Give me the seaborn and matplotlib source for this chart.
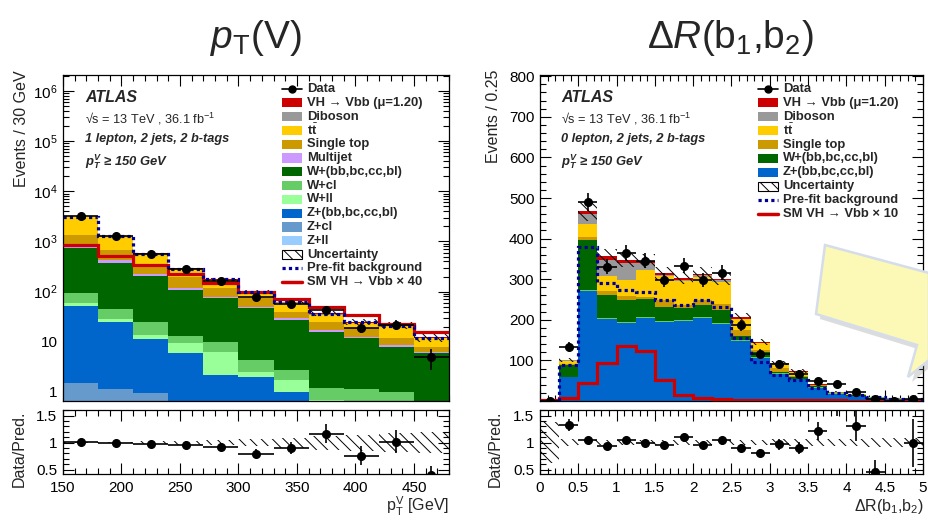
import io
import numpy as np
import pandas as pd
import matplotlib
matplotlib.use("Agg")
import matplotlib.pyplot as plt
import seaborn as sns
from matplotlib.patches import Polygon, Rectangle
from matplotlib.lines import Line2D
from matplotlib.ticker import MultipleLocator, LogLocator, NullFormatter, FuncFormatter

# ---------------- data : pT(V) (1 lepton) ----------------
pt_edges = [150, 180, 210, 240, 270, 300, 330, 360, 390, 420, 450, 480]
pt_zll = [0.2, 0.15, 0.1, 0.1, 0.05, 0.05, 0.03, 0.02, 0.02, 0.01, 0.01]
pt_zcl = [1.3, 1.0, 0.85, 0.5, 0.4, 0.3, 0.2, 0.15, 0.1, 0.1, 0.05]
pt_zhf = [49.5, 23.8, 10.2, 5.3, 1.75, 1.65, 0.77, 0.23, 0.18, 0.09, 0.09]
pt_wll = [7, 4, 2.4, 3.4, 4.1, 0.5, 0.7, 0.3, 0.3, 0.3, 0.15]
pt_wcl = [37, 17, 11.4, 3.7, 3.7, 1.8, 1.0, 0.5, 0.55, 0.5, 0.2]
pt_whf = [630, 319, 179, 95, 64, 43.7, 24.3, 14.8, 10.55, 7.0, 5.4]
pt_mj = [40, 60, 20, 8, 5, 1.5, 2.5, 1.2, 0.8, 0.5, 0.4]
pt_stop = [575, 250, 123, 82, 37, 24.5, 9.1, 7.8, 6.0, 3.2, 1.7]
pt_ttbar = [1694, 570, 211, 79, 54, 19.5, 21, 9.4, 4.7, 8.6, 3.7]
pt_diboson = [40, 20, 10, 6, 4, 2.5, 1.5, 1.1, 0.8, 0.6, 0.4]
pt_vh = [26, 15, 10, 6.6, 4.4, 3.0, 2.1, 1.5, 1.0, 0.7, 0.5]
pt_sm40 = [850, 510, 339, 220, 148, 100, 71, 49, 34, 23, 16]
pt_prefit = [3080, 1270, 575, 288, 175, 97, 62, 36, 24.5, 21, 12]
pt_data = [3160, 1280, 561, 278, 164, 79, 57, 43, 19, 22, 5]
pt_unc = [0.01, 0.015, 0.03, 0.04, 0.05, 0.07, 0.09, 0.13, 0.15, 0.17, 0.2]

# ---------------- data : dR(b1,b2) (0 lepton) ----------------
dr_edges = [0, 0.25, 0.5, 0.75, 1.0, 1.25, 1.5, 1.75, 2.0, 2.25, 2.5,
            2.75, 3.0, 3.25, 3.5, 3.75, 4.0, 4.25, 4.5, 4.75, 5.0]
dr_zhf = [0.5, 60, 272, 202, 192, 204, 195, 198, 205, 190, 149, 107, 67, 54, 33, 18, 13, 8.5, 5.5, 4]
dr_wcl = [0, 0, 2, 2, 2, 2, 2, 2, 2, 2, 2, 2, 1, 1, 1, 0.5, 0.5, 0.2, 0.1, 0.1]
dr_whf = [0.3, 29, 122, 58, 55, 46, 34, 29, 30, 31, 8, 11, 4, 3, 3, 1.5, 1, 0.8, 0.5, 0.4]
dr_stop = [0, 3, 8, 8, 10, 5, 17, 8, 13, 17, 16, 6, 9, 4, 1.5, 1, 0.8, 0.4, 0.3, 0.2]
dr_ttbar = [0.2, 6, 33, 37, 39, 66, 59, 59, 56, 54, 26, 16, 10, 9, 1.5, 1.5, 1, 0.7, 0.5, 0.3]
dr_diboson = [0, 2, 24, 41, 42, 17, 3, 3, 4, 3, 2, 2, 1.5, 1.5, 0.5, 0.3, 0.2, 0.1, 0.1, 0]
dr_vh = [0, 1, 6, 8, 8, 6, 5, 4, 4, 4, 3, 2, 1.5, 1.5, 0.5, 0.3, 0.2, 0.1, 0.1, 0]
dr_sm10 = [1.5, 6.6, 44, 93, 136, 122, 52, 15, 7, 5, 2.5, 2.5, 2, 2, 1.5, 1.5, 1, 1, 1, 1]
dr_prefit = [0.5, 89, 380, 291, 274, 268, 249, 237, 248, 231, 155, 97, 64, 52, 31, 19, 14, 9, 6, 4.5]
dr_data = [0, 134, 490, 331, 365, 346, 299, 333, 298, 316, 187, 117, 91, 67, 50, 41, 22, 5, 0, 5]
dr_unc = [0.38, 0.06, 0.05, 0.05, 0.05, 0.05, 0.05, 0.05, 0.05, 0.05, 0.05, 0.05, 0.06, 0.06,
          0.06, 0.07, 0.07, 0.08, 0.08, 0.08]

# ---------------- style ----------------
COL = {
    "VH": "#cc0000", "Diboson": "#999999", "ttbar": "#ffcc00", "Single top": "#cc9900",
    "Multijet": "#cc99ff", "W+hf": "#006600", "W+cl": "#66cc66", "W+ll": "#99ff99",
    "Z+hf": "#0066cc", "Z+cl": "#6699cc", "Z+ll": "#99ccff",
}
PREFIT_COL = "#000099"

sns.set_theme(style="ticks")
plt.rcParams["font.family"] = ["Liberation Sans", "DejaVu Sans"]
plt.rcParams["mathtext.fontset"] = "custom"
plt.rcParams["mathtext.rm"] = "Liberation Sans"
plt.rcParams["mathtext.it"] = "Liberation Sans:italic"
plt.rcParams["mathtext.bf"] = "Liberation Sans:bold"
try:
    plt.rcParams["mathtext.bfit"] = "Liberation Sans:italic:bold"
except KeyError:
    pass
plt.rcParams["hatch.linewidth"] = 0.7
plt.rcParams["axes.edgecolor"] = "black"
plt.rcParams["xtick.color"] = "black"
plt.rcParams["ytick.color"] = "black"

try:
    from matplotlib.mathtext import math_to_image
    math_to_image("$\\mathbfit{p}$", io.BytesIO(), format="png")
    PTV = "$\\mathbfit{p}_{\\mathbfit{T}}^{\\mathbfit{V}}$"
except Exception:
    PTV = "$\\mathit{p}_{T}^{V}$"

W, H = 929, 521


def px(x, y):
    return (x / W, 1 - y / H)


fig = plt.figure(figsize=(W / 100, H / 100), dpi=100)
ax1 = fig.add_axes([63 / W, 1 - 401 / H, 386 / W, 326 / H])
r1 = fig.add_axes([63 / W, 1 - 474 / H, 386 / W, 64 / H])
ax2 = fig.add_axes([540 / W, 1 - 401 / H, 383 / W, 326 / H])
r2 = fig.add_axes([540 / W, 1 - 474 / H, 383 / W, 64 / H])

HATCH = "\\\\\\"


def draw_panel(ax, rax, edges, comps, order, data, prefit, sm, unc):
    edges_l = [float(e) for e in edges]
    edges = np.asarray(edges_l)
    centers = 0.5 * (edges[:-1] + edges[1:])
    half = 0.5 * np.diff(edges)
    rows = []
    for name in order:
        for c, v in zip(centers, comps[name]):
            rows.append((float(c), float(v), name))
    df = pd.DataFrame(rows, columns=["x", "w", "proc"])
    sns.histplot(data=df, x="x", weights="w", hue="proc", hue_order=order,
                 palette={k: COL[k] for k in order}, multiple="stack", bins=edges_l,
                 element="step", fill=True, alpha=1, linewidth=0, legend=False, ax=ax)
    total = np.sum([np.asarray(comps[k], float) for k in order], axis=0)
    unc = np.asarray(unc, float)
    lo = np.append(total * (1 - unc), total[-1] * (1 - unc[-1]))
    hi = np.append(total * (1 + unc), total[-1] * (1 + unc[-1]))
    ax.fill_between(edges, lo, hi, step="post", facecolor="none", edgecolor="black",
                    hatch=HATCH, linewidth=0, zorder=3)
    ax.stairs(sm, edges, color=COL["VH"], lw=2.3, baseline=None, zorder=4)
    ax.stairs(prefit, edges, color=PREFIT_COL, lw=2.3, ls=(0, (1, 1)), baseline=None, zorder=5)
    data = np.asarray(data, float)
    ax.errorbar(centers, data, yerr=np.sqrt(data), xerr=half, fmt="o", color="black",
                ms=5.5, elinewidth=1.2, capsize=0, zorder=6)
    ax.set_xlabel("")
    ax.set_ylabel("")
    # ratio
    u_lo = np.append(1 - unc, 1 - unc[-1])
    u_hi = np.append(1 + unc, 1 + unc[-1])
    rax.fill_between(edges, u_lo, u_hi, step="post", facecolor="none", edgecolor="black",
                     hatch=HATCH, linewidth=0, zorder=2)
    ratio = data / total
    rerr = np.sqrt(data) / total
    rax.errorbar(centers, ratio, yerr=rerr, xerr=half, fmt="o", color="black",
                 ms=5.5, elinewidth=1.2, capsize=0, zorder=4)
    rax.set_xlim(edges[0], edges[-1])
    rax.set_ylim(0.42, 1.605)
    ax.set_xlim(edges[0], edges[-1])


def style(ax, xmaj, xmin):
    ax.xaxis.set_major_locator(MultipleLocator(xmaj))
    ax.xaxis.set_minor_locator(MultipleLocator(xmin))
    ax.tick_params(which="both", direction="in", top=True, right=True, width=0.8,
                   labelsize=11, pad=4)
    ax.tick_params(which="major", length=8)
    ax.tick_params(which="minor", length=4)
    for s in ax.spines.values():
        s.set_linewidth(0.9)
        s.set_color("black")


order_pt = ["VH", "Diboson", "ttbar", "Single top", "Multijet", "W+hf", "W+cl", "W+ll",
            "Z+hf", "Z+cl", "Z+ll"]
comps_pt = {"VH": pt_vh, "Diboson": pt_diboson, "ttbar": pt_ttbar, "Single top": pt_stop,
            "Multijet": pt_mj, "W+hf": pt_whf, "W+cl": pt_wcl, "W+ll": pt_wll,
            "Z+hf": pt_zhf, "Z+cl": pt_zcl, "Z+ll": pt_zll}
draw_panel(ax1, r1, pt_edges, comps_pt, order_pt, pt_data, pt_prefit, pt_sm40, pt_unc)
ax1.set_yscale("log")
ax1.set_ylim(0.66, 2.08e6)
ax1.set_xlim(150, 480)

order_dr = ["VH", "Diboson", "ttbar", "Single top", "W+hf", "W+cl", "Z+hf"]
comps_dr = {"VH": dr_vh, "Diboson": dr_diboson, "ttbar": dr_ttbar, "Single top": dr_stop,
            "W+hf": dr_whf, "W+cl": dr_wcl, "Z+hf": dr_zhf}
draw_panel(ax2, r2, dr_edges, comps_dr, order_dr, dr_data, dr_prefit, dr_sm10, dr_unc)
ax2.set_ylim(0, 803)

style(ax1, 50, 10)
style(r1, 50, 10)
style(ax2, 0.5, 0.1)
style(r2, 0.5, 0.1)

ax1.yaxis.set_major_locator(LogLocator(base=10, numticks=20))
ax1.yaxis.set_minor_locator(LogLocator(base=10, subs=np.arange(2, 10), numticks=20))
ax1.yaxis.set_minor_formatter(NullFormatter())


def logfmt(v, pos):
    e = int(round(np.log10(v)))
    if e == 0:
        return "1"
    if e == 1:
        return "10"
    return "$\\mathregular{10^{%d}}$" % e


ax1.yaxis.set_major_formatter(FuncFormatter(logfmt))
ax2.yaxis.set_major_locator(MultipleLocator(100))
ax2.yaxis.set_minor_locator(MultipleLocator(20))
ax2.yaxis.set_major_formatter(FuncFormatter(lambda v, p: "" if v <= 0 else "%d" % v))
for a in (ax1, ax2):
    a.tick_params(labelbottom=False)
for r in (r1, r2):
    r.yaxis.set_major_locator(MultipleLocator(0.5))
    r.yaxis.set_minor_locator(MultipleLocator(0.1))
    r.yaxis.set_major_formatter(FuncFormatter(lambda v, p: "%g" % v))
    r.xaxis.set_major_formatter(FuncFormatter(lambda v, p: "%g" % v))
    r.tick_params(axis="x", pad=5)
    r.set_xlabel("")
    r.set_ylabel("")

# ---------------- titles & labels ----------------
fig.text(*px(256, 38), "$p_{\\mathrm{T}}$(V)", fontsize=28, ha="center", va="center")
fig.text(*px(730, 38), "Δ$R$(b$_{1}$,b$_{2}$)", fontsize=28, ha="center", va="center")
fig.text(*px(22, 70), "Events / 30 GeV", rotation=90, ha="center", va="top", fontsize=11.5)
fig.text(*px(494, 70), "Events / 0.25", rotation=90, ha="center", va="top", fontsize=11.5)
fig.text(*px(19, 449), "Data/Pred.", rotation=90, ha="center", va="center", fontsize=11.5)
fig.text(*px(495, 449), "Data/Pred.", rotation=90, ha="center", va="center", fontsize=11.5)
fig.text(*px(449, 511), "$\\mathregular{p_{T}^{V}}$ [GeV]", ha="right", va="baseline",
         fontsize=11.5)
fig.text(*px(924, 511), "ΔR(b$_{1}$,b$_{2}$)", ha="right", va="baseline", fontsize=11.5)

# ATLAS labels
for x0, chan in ((85, "1 lepton, 2 jets, 2 b-tags"), (561, "0 lepton, 2 jets, 2 b-tags")):
    fig.text(*px(x0, 97), "ATLAS", fontsize=11.5, fontweight="bold", fontstyle="italic",
             ha="left", va="center")
    fig.text(*px(x0, 119), "√s = 13 TeV , 36.1 fb$^{\\mathregular{-1}}$", fontsize=9.2,
             ha="left", va="center")
    fig.text(*px(x0, 139), chan, fontsize=9.2, fontweight="bold", fontstyle="italic",
             ha="left", va="center")
    fig.text(*px(x0, 162), PTV + " ≥ 150 GeV", fontsize=9.4, fontweight="bold",
             fontstyle="italic", ha="left", va="center")

# ---------------- legends (figure pixel layout) ----------------
labels_pt = ["Data", "VH → Vbb (μ=1.20)", "Diboson", "$\\mathbf{t}\\bar{\\mathbf{t}}$",
             "Single top", "Multijet", "W+(bb,bc,cc,bl)", "W+cl", "W+ll",
             "Z+(bb,bc,cc,bl)", "Z+cl", "Z+ll", "Uncertainty", "Pre-fit background",
             "SM VH → Vbb × 40"]
keys_pt = ["data"] + order_pt + ["unc", "prefit", "sm"]
labels_dr = ["Data", "VH → Vbb (μ=1.20)", "Diboson", "$\\mathbf{t}\\bar{\\mathbf{t}}$",
             "Single top", "W+(bb,bc,cc,bl)", "Z+(bb,bc,cc,bl)", "Uncertainty",
             "Pre-fit background", "SM VH → Vbb × 10"]
keys_dr = ["data", "VH", "Diboson", "ttbar", "Single top", "W+hf", "Z+hf", "unc", "prefit", "sm"]


def draw_legend(keys, labels, x0, y0, pitch):
    for i, (k, lab) in enumerate(zip(keys, labels)):
        yc = y0 + i * pitch
        if k == "data":
            fig.add_artist(Line2D([x0 / W, (x0 + 20) / W], [1 - yc / H] * 2, color="black",
                                  lw=1.2, transform=fig.transFigure))
            fig.add_artist(Line2D([(x0 + 10) / W], [1 - yc / H], color="black", marker="o",
                                  ms=5, transform=fig.transFigure))
        elif k == "unc":
            fig.add_artist(Rectangle(px(x0, yc + 4.5), 20 / W, 9 / H, facecolor="white",
                                     edgecolor="black", hatch=HATCH, lw=0.8,
                                     transform=fig.transFigure))
        elif k == "prefit":
            fig.add_artist(Line2D([x0 / W, (x0 + 20) / W], [1 - yc / H] * 2, color=PREFIT_COL,
                                  lw=2.3, ls=(0, (1, 1)), transform=fig.transFigure))
        elif k == "sm":
            fig.add_artist(Line2D([x0 / W, (x0 + 20) / W], [1 - yc / H] * 2, color=COL["VH"],
                                  lw=2.5, transform=fig.transFigure))
        else:
            fig.add_artist(Rectangle(px(x0, yc + 4.5), 20 / W, 9 / H, facecolor=COL[k],
                                     edgecolor="none", transform=fig.transFigure))
        fig.text(*px(x0 + 25, yc), lab, fontsize=9.4, fontweight="bold", ha="left", va="center")


draw_legend(keys_pt, labels_pt, 282, 89, 13.8)
draw_legend(keys_dr, labels_dr, 758, 89, 13.9)

# ---------------- callout note ----------------
note = [(825, 245), (929, 273), (929, 360), (908, 377), (917, 345), (816, 314)]
shadow = [px(x + 4, y + 5) for x, y in note]
fig.add_artist(Polygon(shadow, closed=True, facecolor="#777777", alpha=0.25, edgecolor="none",
                       transform=fig.transFigure, zorder=5))
fig.add_artist(Polygon([px(x, y) for x, y in note], closed=True, facecolor="#fcf9b6",
                       edgecolor="#d5dcea", lw=1.8, transform=fig.transFigure, zorder=6))

fig.savefig("out.png", dpi=100)
